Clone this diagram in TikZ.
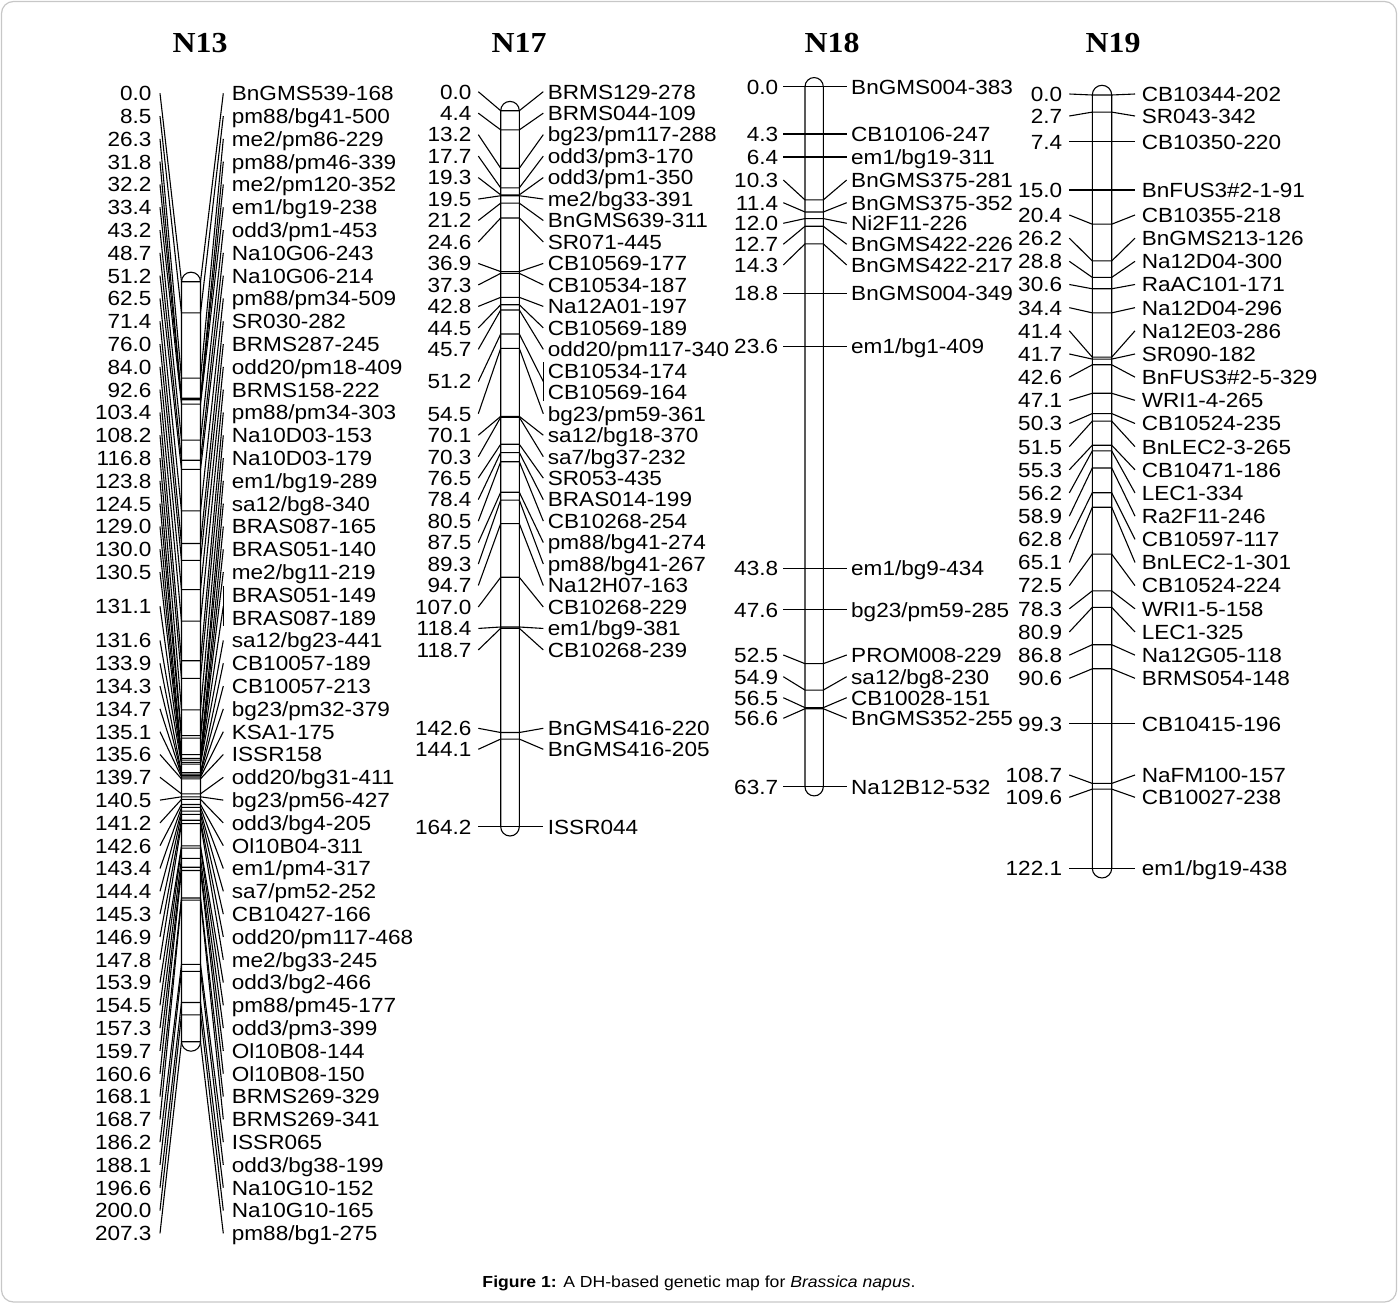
\documentclass[tikz,border=0pt]{standalone}
\usepackage{fontspec}
\setmainfont{Liberation Sans}[FakeStretch=1.1]
\newfontfamily\titlefont{Liberation Serif}[FakeStretch=1.1]
\newcommand\lblfont{\fontsize{20.5}{23}\selectfont}
\tikzset{
  numlab/.style={anchor=east, inner sep=0pt, font=\lblfont, text height=14.7pt, text depth=0pt},
  namelab/.style={anchor=west, inner sep=0pt, font=\lblfont, text height=14.7pt, text depth=0pt},
  conn/.style={line width=1.1pt, black},
  barline/.style={line width=1.1pt, black, fill=white},
  chromtitle/.style={font=\titlefont\bfseries\fontsize{29}{32}\selectfont, inner sep=0pt},
  frameline/.style={draw=black!22, line width=1.2pt, rounded corners=12pt},
}
% chromosome parameters: bar left, bar right, y of 0 cM, px per cM, left line x, right line x, number x, name x
\newcommand\setchrom[8]{\def\cbl{#1}\def\cbr{#2}\def\cyz{#3}\def\csc{#4}\def\clx{#5}\def\crx{#6}\def\cnx{#7}\def\cmx{#8}}
\newcommand\chrombar[1]{%
  \pgfmathsetmacro\cye{\cyz+#1*\csc}%
  \pgfmathsetmacro\crr{(\cbr-\cbl)/2}%
  \draw[barline] (\cbl,\cyz) arc[start angle=180,end angle=360,radius=\crr] -- (\cbr,\cye) arc[start angle=0,end angle=180,radius=\crr] -- cycle;%
}
\newcommand\mrk[4]{%
  \pgfmathsetmacro\cym{\cyz+#2*\csc}%
  \pgfmathsetmacro\cly{#3}%
  \node[numlab] (#1-n) at (\cnx,\cly) {#2};%
  \node[namelab] (#1-t) at (\cmx,\cly) {#4};%
  \coordinate (#1-a) at (\clx,\cly);%
  \coordinate (#1-l) at (\cbl,\cym);%
  \coordinate (#1-r) at (\cbr,\cym);%
  \coordinate (#1-b) at (\crx,\cly);%
  \draw[conn] (#1-a) -- (#1-l) -- (#1-r) -- (#1-b);%
}
\newcommand\mr[3]{\mrk{\cpre#1}{#2}{\cya+#1*\cdy}{#3}}
\newcommand\ms[2]{\mrk{\cpre#1}{#2}{\cyz+#2*\csc}}
\newcommand\mrkpair[5]{%
  \pgfmathsetmacro\cym{\cyz+#2*\csc}%
  \pgfmathsetmacro\cya{#3}%
  \pgfmathsetmacro\cyb{#3+\cdy}%
  \pgfmathsetmacro\cly{(\cya+\cyb)/2}%
  \node[numlab] (#1-n) at (\cnx,\cly) {#2};%
  \node[namelab] (#1-t1) at (\cmx,\cya) {#4};%
  \node[namelab] (#1-t2) at (\cmx,\cyb) {#5};%
  \coordinate (#1-a) at (\clx,\cly);%
  \coordinate (#1-l) at (\cbl,\cym);%
  \coordinate (#1-r) at (\cbr,\cym);%
  \coordinate (#1-b) at (\crx,\cly);%
  \coordinate (#1-b1) at (\crx,\cya-8.5);%
  \coordinate (#1-b2) at (\crx,\cyb+8.5);%
  \draw[conn] (#1-a) -- (#1-l) -- (#1-r) -- (#1-b);%
  \draw[conn] (#1-b1) -- (#1-b2);%
}
\begin{document}
\begin{tikzpicture}[x=1pt,y=-1pt]
\useasboundingbox (0,0) rectangle (1398,1306);
\draw[frameline] (1.5,1.5) rectangle (1396.5,1302);
% titles
\node[chromtitle] (t13) at (200,43) {N13};
\node[chromtitle] (t17) at (519,43) {N17};
\node[chromtitle] (t18) at (832,43) {N18};
\node[chromtitle] (t19) at (1113,43) {N19};
% ---------------- N13
\setchrom{181.5}{200.5}{281.7}{3.6662}{160}{223.3}{151.7}{231.7}
\def\cpre{a}\def\cya{93.3}\def\cdy{22.8}
\chrombar{207.3}
\mr{0}{0.0}{BnGMS539-168}
\mr{1}{8.5}{pm88/bg41-500}
\mr{2}{26.3}{me2/pm86-229}
\mr{3}{31.8}{pm88/pm46-339}
\mr{4}{32.2}{me2/pm120-352}
\mr{5}{33.4}{em1/bg19-238}
\mr{6}{43.2}{odd3/pm1-453}
\mr{7}{48.7}{Na10G06-243}
\mr{8}{51.2}{Na10G06-214}
\mr{9}{62.5}{pm88/pm34-509}
\mr{10}{71.4}{SR030-282}
\mr{11}{76.0}{BRMS287-245}
\mr{12}{84.0}{odd20/pm18-409}
\mr{13}{92.6}{BRMS158-222}
\mr{14}{103.4}{pm88/pm34-303}
\mr{15}{108.2}{Na10D03-153}
\mr{16}{116.8}{Na10D03-179}
\mr{17}{123.8}{em1/bg19-289}
\mr{18}{124.5}{sa12/bg8-340}
\mr{19}{129.0}{BRAS087-165}
\mr{20}{130.0}{BRAS051-140}
\mr{21}{130.5}{me2/bg11-219}
\mrkpair{a22}{131.1}{93.3+22*22.8}{BRAS051-149}{BRAS087-189}
\def\cya{93.3}
\mr{24}{131.6}{sa12/bg23-441}
\mr{25}{133.9}{CB10057-189}
\mr{26}{134.3}{CB10057-213}
\mr{27}{134.7}{bg23/pm32-379}
\mr{28}{135.1}{KSA1-175}
\mr{29}{135.6}{ISSR158}
\mr{30}{139.7}{odd20/bg31-411}
\mr{31}{140.5}{bg23/pm56-427}
\mr{32}{141.2}{odd3/bg4-205}
\mr{33}{142.6}{Ol10B04-311}
\mr{34}{143.4}{em1/pm4-317}
\mr{35}{144.4}{sa7/pm52-252}
\mr{36}{145.3}{CB10427-166}
\mr{37}{146.9}{odd20/pm117-468}
\mr{38}{147.8}{me2/bg33-245}
\mr{39}{153.9}{odd3/bg2-466}
\mr{40}{154.5}{pm88/pm45-177}
\mr{41}{157.3}{odd3/pm3-399}
\mr{42}{159.7}{Ol10B08-144}
\mr{43}{160.6}{Ol10B08-150}
\mr{44}{168.1}{BRMS269-329}
\mr{45}{168.7}{BRMS269-341}
\mr{46}{186.2}{ISSR065}
\mr{47}{188.1}{odd3/bg38-199}
\mr{48}{196.6}{Na10G10-152}
\mr{49}{200.0}{Na10G10-165}
\mr{50}{207.3}{pm88/bg1-275}
% ---------------- N17
\setchrom{500.7}{519.3}{110.7}{4.3605}{478.3}{543.3}{471.7}{547.7}
\def\cpre{b}\def\cya{91.7}\def\cdy{21.47}
\chrombar{164.2}
\mr{0}{0.0}{BRMS129-278}
\mr{1}{4.4}{BRMS044-109}
\mr{2}{13.2}{bg23/pm117-288}
\mr{3}{17.7}{odd3/pm3-170}
\mr{4}{19.3}{odd3/pm1-350}
\mr{5}{19.5}{me2/bg33-391}
\mr{6}{21.2}{BnGMS639-311}
\mr{7}{24.6}{SR071-445}
\mr{8}{36.9}{CB10569-177}
\mr{9}{37.3}{CB10534-187}
\mr{10}{42.8}{Na12A01-197}
\mr{11}{44.5}{CB10569-189}
\mr{12}{45.7}{odd20/pm117-340}
\mrkpair{b13}{51.2}{91.7+13*21.47}{CB10534-174}{CB10569-164}
\def\cya{91.7}
\mr{15}{54.5}{bg23/pm59-361}
\mr{16}{70.1}{sa12/bg18-370}
\mr{17}{70.3}{sa7/bg37-232}
\mr{18}{76.5}{SR053-435}
\mr{19}{78.4}{BRAS014-199}
\mr{20}{80.5}{CB10268-254}
\mr{21}{87.5}{pm88/bg41-274}
\mr{22}{89.3}{pm88/bg41-267}
\mr{23}{94.7}{Na12H07-163}
\mr{24}{107.0}{CB10268-229}
\mr{25}{118.4}{em1/bg9-381}
\mr{26}{118.7}{CB10268-239}
\mrk{b27}{142.6}{728.3}{BnGMS416-220}
\mrk{b28}{144.1}{749.3}{BnGMS416-205}
\ms{29}{164.2}{ISSR044}
% ---------------- N18
\setchrom{805}{823.3}{86.7}{10.99}{783.3}{846.7}{778.3}{851}
\def\cpre{c}
\chrombar{63.7}
\ms{0}{0.0}{BnGMS004-383}
\ms{1}{4.3}{CB10106-247}
\ms{2}{6.4}{em1/bg19-311}
\mrk{c3}{10.3}{180}{BnGMS375-281}
\mrk{c4}{11.4}{202.7}{BnGMS375-352}
\mrk{c5}{12.0}{223.3}{Ni2F11-226}
\mrk{c6}{12.7}{244.3}{BnGMS422-226}
\mrk{c7}{14.3}{265}{BnGMS422-217}
\ms{8}{18.8}{BnGMS004-349}
\ms{9}{23.6}{em1/bg1-409}
\ms{10}{43.8}{em1/bg9-434}
\ms{11}{47.6}{bg23/pm59-285}
\mrk{c12}{52.5}{655}{PROM008-229}
\mrk{c13}{54.9}{676.7}{sa12/bg8-230}
\mrk{c14}{56.5}{697.7}{CB10028-151}
\mrk{c15}{56.6}{718.3}{BnGMS352-255}
\ms{16}{63.7}{Na12B12-532}
% ---------------- N19
\setchrom{1092.3}{1111.7}{95}{6.333}{1069.3}{1135}{1062.3}{1141.7}
\def\cpre{d}\def\cya{122.34}\def\cdy{23.165}
\chrombar{122.1}
\mrk{d0}{0.0}{94}{CB10344-202}
\mrk{d1}{2.7}{116}{SR043-342}
\ms{2}{7.4}{CB10350-220}
\ms{3}{15.0}{BnFUS3\#2-1-91}
\mr{4}{20.4}{CB10355-218}
\mr{5}{26.2}{BnGMS213-126}
\mr{6}{28.8}{Na12D04-300}
\mr{7}{30.6}{RaAC101-171}
\mr{8}{34.4}{Na12D04-296}
\mr{9}{41.4}{Na12E03-286}
\mr{10}{41.7}{SR090-182}
\mr{11}{42.6}{BnFUS3\#2-5-329}
\mr{12}{47.1}{WRI1-4-265}
\mr{13}{50.3}{CB10524-235}
\mr{14}{51.5}{BnLEC2-3-265}
\mr{15}{55.3}{CB10471-186}
\mr{16}{56.2}{LEC1-334}
\mr{17}{58.9}{Ra2F11-246}
\mr{18}{62.8}{CB10597-117}
\mr{19}{65.1}{BnLEC2-1-301}
\mr{20}{72.5}{CB10524-224}
\mr{21}{78.3}{WRI1-5-158}
\mr{22}{80.9}{LEC1-325}
\mr{23}{86.8}{Na12G05-118}
\mr{24}{90.6}{BRMS054-148}
\ms{25}{99.3}{CB10415-196}
\mrk{d26}{108.7}{775}{NaFM100-157}
\mrk{d27}{109.6}{797.3}{CB10027-238}
\ms{28}{122.1}{em1/bg19-438}
% caption
\node[inner sep=0pt, font=\fontsize{16}{18}\selectfont] (cap) at (699,1283) {\textbf{Figure 1:} A DH-based genetic map for \textit{Brassica napus}.};
\end{tikzpicture}
\end{document}
